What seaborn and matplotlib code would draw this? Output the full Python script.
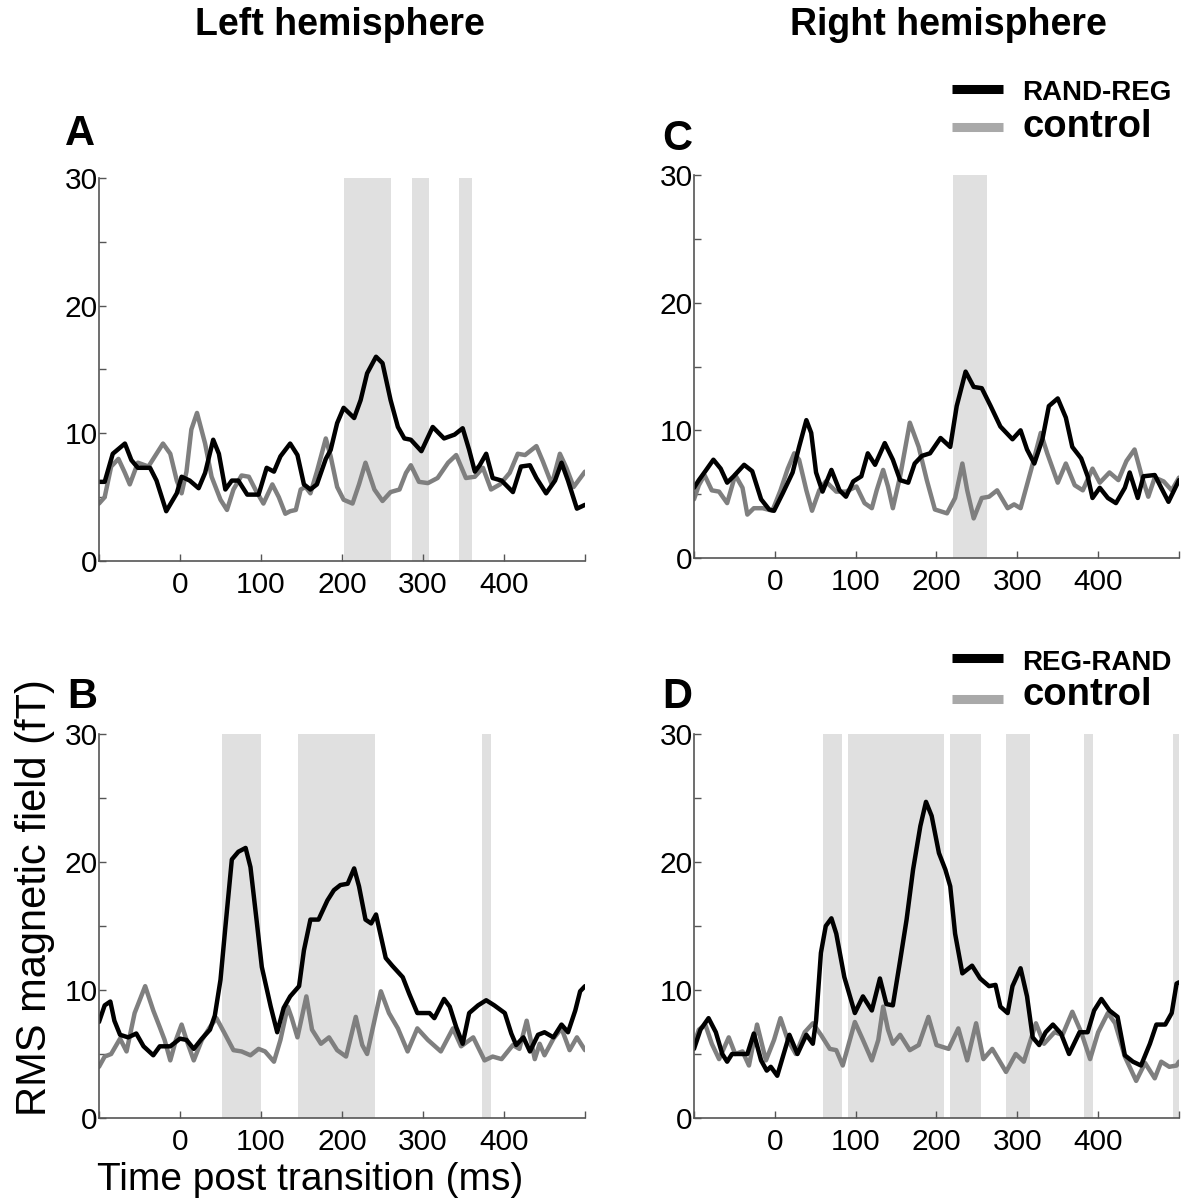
import numpy as np
import pandas as pd
import matplotlib
matplotlib.use("Agg")
import matplotlib.pyplot as plt
from matplotlib.lines import Line2D
import seaborn as sns

# ---------------- data ----------------
# Panel A: Left hemisphere, RAND-REG
a_black_t = [-100, -93, -83, -68, -60, -52, -37, -29, -17, -4, 2, 12, 23, 31, 41, 48, 56, 64, 72, 83, 97,
             107, 116, 124, 136, 145, 153, 161, 169, 180, 186, 194, 202, 215, 223, 231, 242, 250, 260, 269,
             277, 285, 298, 312, 326, 339, 349, 357, 364, 370, 378, 386, 397, 411, 421, 432, 440, 452, 463,
             471, 479, 490, 500]
a_black_v = [6.2, 6.2, 8.4, 9.2, 7.9, 7.3, 7.3, 6.3, 3.9, 5.3, 6.6, 6.3, 5.7, 6.9, 9.5, 8.4, 5.6, 6.3, 6.3, 5.2, 5.2,
             7.3, 7.0, 8.2, 9.2, 8.3, 6.0, 5.6, 6.0, 8.0, 8.7, 10.8, 12.0, 11.2, 12.6, 14.7, 16.0, 15.5, 12.6, 10.5,
             9.6, 9.5, 8.6, 10.5, 9.6, 9.9, 10.4, 8.7, 7.0, 7.5, 8.4, 6.5, 6.3, 5.4, 7.4, 7.5, 6.5, 5.3, 6.3,
             7.7, 6.3, 4.1, 4.4]
a_gray_t = [-100, -93, -85, -76, -68, -62, -52, -39, -29, -21, -12, -4, 2, 8, 14, 21, 31, 39, 50, 58, 66, 76,
            85, 93, 103, 114, 122, 130, 136, 143, 149, 155, 161, 169, 180, 186, 194, 202, 213, 221, 229, 240,
            250, 260, 271, 279, 285, 295, 306, 318, 331, 341, 353, 364, 374, 384, 395, 407, 417, 426, 440, 448,
            459, 469, 477, 486, 500]
a_gray_v = [4.5, 5.0, 7.4, 8.0, 6.9, 6.0, 7.7, 7.4, 8.4, 9.2, 8.4, 6.3, 5.3, 7.0, 10.3, 11.6, 9.2, 6.6, 4.8, 4.0,
            5.6, 6.7, 6.6, 5.6, 4.5, 6.0, 5.0, 3.7, 3.9, 4.0, 5.6, 5.8, 5.3, 7.0, 9.6, 8.2, 5.8, 4.8, 4.5, 6.0,
            7.7, 5.6, 4.7, 5.4, 5.6, 6.9, 7.5, 6.2, 6.1, 6.5, 7.7, 8.3, 6.5, 6.6, 7.3, 5.6, 6.0, 6.9, 8.4, 8.3,
            9.0, 7.8, 6.0, 8.4, 7.3, 5.8, 7.0]
a_spans = [(203, 260), (286, 308), (345, 360)]

# Panel C: Right hemisphere, RAND-REG
c_black_t = [-100, -94, -86, -76, -67, -59, -51, -38, -28, -17, -7, -1, 10, 22, 30, 39, 45, 51, 59, 70, 80, 88,
             97, 107, 115, 124, 136, 146, 155, 165, 173, 182, 192, 205, 217, 225, 236, 246, 256, 267, 279, 294,
             304, 312, 321, 331, 339, 350, 360, 368, 379, 387, 393, 402, 412, 422, 433, 439, 449, 456, 470,
             478, 487, 500]
c_black_v = [5.5, 6.1, 6.8, 7.7, 7.0, 5.9, 6.4, 7.3, 6.8, 4.6, 3.8, 3.7, 5.1, 6.7, 8.7, 10.8, 9.8, 6.7, 5.2, 6.9,
             5.3, 4.8, 6.0, 6.4, 8.2, 7.3, 9.0, 7.7, 6.1, 5.9, 7.4, 8.0, 8.2, 9.4, 8.7, 11.9, 14.6, 13.4, 13.3,
             11.9, 10.3, 9.3, 10.0, 8.5, 7.4, 9.3, 11.9, 12.5, 11.0, 8.7, 7.8, 6.4, 4.7, 5.5, 4.7, 4.3, 5.5, 6.7,
             4.7, 6.4, 6.5, 5.5, 4.4, 6.1]
c_gray_t = [-100, -94, -87, -78, -69, -59, -49, -40, -34, -26, -15, -3, 7, 16, 24, 30, 39, 46, 55, 63, 76, 88,
            101, 111, 120, 126, 134, 140, 146, 155, 167, 178, 188, 198, 213, 223, 232, 238, 246, 256, 265, 275,
            288, 296, 304, 317, 329, 337, 350, 360, 371, 381, 393, 402, 414, 425, 435, 445, 454, 462, 470, 481,
            491, 500]
c_gray_v = [4.6, 5.7, 6.5, 5.3, 5.2, 4.3, 6.5, 5.5, 3.4, 3.9, 3.9, 3.7, 5.3, 7.0, 8.2, 7.7, 5.3, 3.7, 5.3, 6.0,
            5.2, 5.2, 5.6, 4.3, 3.9, 5.3, 6.9, 5.6, 3.9, 6.4, 10.6, 8.7, 6.1, 3.8, 3.5, 4.7, 7.4, 5.3, 3.1, 4.7,
            4.8, 5.3, 3.9, 4.2, 3.9, 6.9, 9.8, 8.2, 5.9, 7.4, 5.7, 5.3, 7.0, 5.9, 6.7, 6.1, 7.6, 8.5, 6.4, 4.8,
            6.3, 6.0, 5.3, 6.3]
c_spans = [(220, 263)]

# Panel B: Left hemisphere, REG-RAND
b_black_t = [-100, -93, -86, -81, -74, -64, -54, -45, -33, -25, -12, 0, 8, 17, 27, 37, 43, 50, 56, 64, 72, 81,
             87, 95, 101, 112, 120, 128, 136, 147, 153, 161, 171, 182, 190, 198, 207, 215, 221, 229, 236, 242,
             248, 254, 262, 275, 283, 293, 302, 308, 314, 326, 333, 341, 349, 357, 368, 378, 388, 401, 409, 415,
             424, 432, 442, 450, 461, 471, 479, 488, 494, 500]
b_black_v = [7.5, 8.8, 9.1, 7.6, 6.5, 6.3, 6.6, 5.6, 4.9, 5.6, 5.6, 6.2, 6.1, 5.4, 6.2, 6.9, 8.0, 10.8, 14.9, 20.2,
             20.8, 21.1, 19.6, 15.2, 11.8, 8.7, 6.7, 8.6, 9.5, 10.3, 13.1, 15.5, 15.5, 17.0, 17.8, 18.2, 18.3, 19.5,
             18.1, 15.5, 15.2, 15.9, 14.2, 12.5, 11.9, 11.0, 9.7, 8.2, 8.2, 8.2, 7.8, 9.3, 8.7, 7.1, 5.8, 8.2, 8.8,
             9.2, 8.8, 8.2, 6.6, 5.7, 6.3, 5.2, 6.5, 6.7, 6.3, 7.3, 6.7, 8.4, 9.9, 10.3]
b_gray_t = [-100, -93, -85, -74, -66, -56, -43, -33, -25, -19, -12, -5, 2, 8, 17, 27, 37, 45, 56, 66, 76, 87,
            97, 105, 116, 124, 133, 138, 145, 156, 163, 174, 184, 194, 205, 217, 225, 231, 240, 248, 258, 269,
            281, 293, 306, 322, 337, 347, 362, 376, 386, 397, 411, 419, 428, 438, 444, 450, 461, 471, 481, 490,
            500]
b_gray_v = [4.0, 4.8, 5.0, 6.2, 5.2, 8.2, 10.3, 8.4, 7.1, 6.1, 4.5, 6.1, 7.3, 6.1, 4.5, 6.1, 7.1, 7.8, 6.5, 5.3,
            5.2, 4.9, 5.4, 5.2, 4.4, 6.1, 8.7, 7.8, 6.3, 9.5, 6.9, 5.8, 6.3, 5.3, 4.8, 7.9, 5.7, 5.0, 7.6, 9.9,
            8.2, 7.0, 5.2, 7.0, 6.1, 5.2, 7.0, 5.6, 6.3, 4.5, 4.8, 4.6, 5.7, 5.4, 7.6, 4.6, 5.8, 4.9, 6.2, 7.0,
            5.3, 6.3, 5.3]
b_spans = [(52, 100), (146, 241), (373, 384)]

# Panel D: Right hemisphere, REG-RAND
d_black_t = [-100, -92, -82, -73, -65, -59, -53, -40, -34, -26, -17, -10, -5, 3, 10, 18, 28, 39, 47, 51, 57, 63,
             70, 76, 86, 99, 109, 120, 130, 138, 146, 155, 163, 171, 180, 187, 194, 203, 211, 217, 223, 232, 244,
             254, 265, 273, 279, 288, 294, 304, 312, 319, 327, 335, 344, 354, 364, 377, 387, 395, 404, 414, 424,
             433, 443, 453, 464, 472, 483, 491, 497, 500]
d_black_v = [5.4, 6.9, 7.8, 6.7, 5.0, 4.4, 5.0, 5.0, 5.0, 6.6, 4.5, 3.7, 4.0, 3.3, 4.8, 6.5, 5.0, 6.5, 5.8, 7.6,
             12.9, 15.0, 15.6, 14.4, 11.0, 8.2, 9.5, 8.4, 10.9, 8.9, 8.8, 12.3, 15.5, 19.4, 22.8, 24.7, 23.6, 20.7,
             19.4, 18.1, 14.4, 11.3, 11.9, 10.9, 10.3, 10.4, 8.7, 8.2, 10.3, 11.7, 9.5, 6.3, 5.7, 6.7, 7.3, 6.6,
             5.0, 6.7, 6.7, 8.4, 9.3, 8.4, 7.9, 4.9, 4.4, 4.1, 5.8, 7.3, 7.3, 8.2, 10.5, 10.6]
d_gray_t = [-100, -94, -86, -78, -69, -57, -49, -40, -32, -22, -11, -1, 7, 16, 26, 37, 47, 57, 68, 76, 84, 99,
            109, 120, 128, 134, 140, 146, 155, 167, 178, 190, 200, 215, 227, 238, 249, 258, 269, 286, 298, 308,
            323, 333, 346, 356, 368, 379, 390, 400, 412, 421, 433, 447, 458, 470, 478, 488, 497, 500]
d_gray_v = [5.8, 6.9, 7.3, 5.8, 4.6, 6.3, 5.0, 5.2, 4.1, 7.3, 4.5, 6.1, 7.8, 6.1, 5.0, 6.7, 7.4, 6.5, 5.4, 5.3,
            4.1, 7.5, 6.1, 4.5, 6.1, 8.7, 6.9, 5.8, 6.5, 5.3, 5.7, 7.9, 5.7, 5.4, 7.0, 4.5, 7.4, 4.6, 5.4, 3.6,
            5.0, 4.4, 7.4, 5.8, 6.7, 6.5, 8.3, 6.7, 4.6, 6.7, 8.2, 7.4, 4.8, 2.9, 4.3, 3.1, 4.4, 4.0, 4.1, 4.4]
d_spans = [(59, 83), (91, 209), (217, 255), (286, 316), (383, 394), (493, 502)]

x_ticks = [-100, 0, 100, 200, 300, 400, 500]
x_ticklabels = ["", "0", "100", "200", "300", "400", ""]
y_ticks = [0, 5, 10, 15, 20, 25, 30]
y_ticklabels = ["0", "", "10", "", "20", "", "30"]

# ---------------- styling ----------------
sns.set_style("ticks")
plt.rcParams["font.family"] = ["Liberation Sans", "DejaVu Sans"]
plt.rcParams["text.color"] = "black"
plt.rcParams["axes.labelcolor"] = "black"
plt.rcParams["xtick.color"] = "black"
plt.rcParams["ytick.color"] = "black"

BLACK = "#000000"
GRAY = "#7f7f7f"
LEG_GRAY = "#a9a9a9"
SHADE = "#e0e0e0"
SPINE = "#555555"

W, H = 1197, 1203
fig = plt.figure(figsize=(W / 100, H / 100), dpi=100)


def px_rect(x0, y0, x1, y1):
    return [x0 / W, 1 - y1 / H, (x1 - x0) / W, (y1 - y0) / H]


panels = [
    ("A", px_rect(99, 178, 585, 561), a_black_t, a_black_v, a_gray_t, a_gray_v, a_spans),
    ("C", px_rect(694, 175, 1179, 558), c_black_t, c_black_v, c_gray_t, c_gray_v, c_spans),
    ("B", px_rect(99, 734, 585, 1118), b_black_t, b_black_v, b_gray_t, b_gray_v, b_spans),
    ("D", px_rect(694, 734, 1179, 1118), d_black_t, d_black_v, d_gray_t, d_gray_v, d_spans),
]

for name, rect, bt, bv, gt, gv, spans in panels:
    ax = fig.add_axes(rect)
    for s0, s1 in spans:
        ax.axvspan(s0, s1, ymin=0, ymax=1, color=SHADE, lw=0, zorder=0)
    df = pd.concat([
        pd.DataFrame({"t": gt, "v": gv, "cond": "control"}),
        pd.DataFrame({"t": bt, "v": bv, "cond": "diff"}),
    ], ignore_index=True)
    sns.lineplot(data=df, x="t", y="v", hue="cond", hue_order=["control", "diff"],
                 palette={"control": GRAY, "diff": BLACK}, linewidth=3.2,
                 legend=False, ax=ax, estimator=None, sort=True)
    for ln in ax.lines:
        ln.set_solid_joinstyle("round")
        ln.set_solid_capstyle("round")
    ax.set_xlim(-100, 500)
    ax.set_ylim(0, 30)
    ax.set_xticks(x_ticks)
    ax.set_xticklabels(x_ticklabels)
    ax.set_yticks(y_ticks)
    ax.set_yticklabels(y_ticklabels)
    ax.set_xlabel("")
    ax.set_ylabel("")
    ax.tick_params(direction="in", length=5, width=1.0, color=SPINE, labelsize=21.5,
                   labelcolor="black")
    ax.tick_params(axis="x", pad=7)
    ax.tick_params(axis="y", pad=1)
    for sp in ["top", "right"]:
        ax.spines[sp].set_visible(False)
    for sp in ["left", "bottom"]:
        ax.spines[sp].set_color(SPINE)
        ax.spines[sp].set_linewidth(1.2)
    ax.set_facecolor("none")

# panel letters
letters = {"A": (80, 134), "C": (677, 139), "B": (82, 697), "D": (677, 697)}
for k, (x, y) in letters.items():
    fig.text(x / W, 1 - y / H, k, fontsize=30, fontweight="bold", ha="center", va="center",
             color="black")

# column titles
fig.text(340 / W, 1 - 25 / H, "Left hemisphere", fontsize=27, fontweight="bold", ha="center",
         va="center", color="black")
fig.text(948 / W, 1 - 25 / H, "Right hemisphere", fontsize=27, fontweight="bold", ha="center",
         va="center", color="black")

# axis labels
fig.text(310 / W, 1 - 1180 / H, "Time post transition (ms)", fontsize=28, ha="center", va="center",
         color="black")
fig.text(35 / W, 1 - 898 / H, "RMS magnetic field (fT)", fontsize=30, ha="center", va="center",
         rotation=90, color="black")


# legends
def legend(y_black, y_gray, label, base_black, base_gray):
    fig.add_artist(Line2D([952 / W, 1003 / W], [1 - y_black / H] * 2, color=BLACK, lw=6.5,
                          solid_capstyle="butt", transform=fig.transFigure))
    fig.add_artist(Line2D([952 / W, 1003 / W], [1 - y_gray / H] * 2, color=LEG_GRAY, lw=6.5,
                          solid_capstyle="butt", transform=fig.transFigure))
    fig.text(1022 / W, 1 - base_black / H, label, fontsize=20, fontweight="bold",
             ha="left", va="baseline", color="black")
    fig.text(1022 / W, 1 - base_gray / H, "control", fontsize=27.5, fontweight="bold",
             ha="left", va="baseline", color="black")


legend(89, 127, "RAND-REG", 100, 137)
legend(658, 699, "REG-RAND", 670, 705)

fig.savefig("out.png", dpi=100, facecolor="white")
